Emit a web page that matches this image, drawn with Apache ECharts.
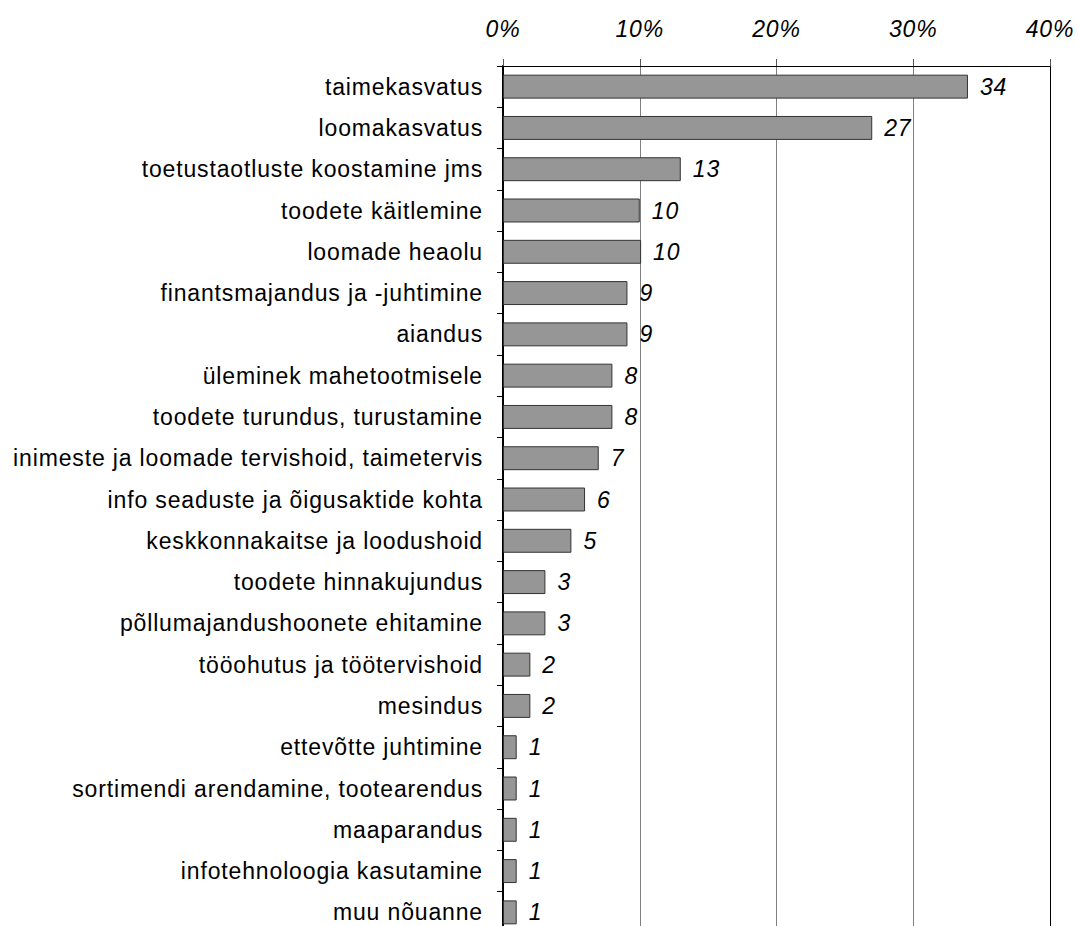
<!DOCTYPE html>
<html>
<head>
<meta charset="utf-8">
<title>Nõuanne</title>
<script src="https://cdn.jsdelivr.net/npm/echarts@6/dist/echarts.min.js"></script>
<style>
html, body { margin: 0; padding: 0; background: #fff; overflow: hidden; }
#chart { width: 1078px; height: 940px; }
/* originaalis on tähed veidi hõredamalt */
#chart text { letter-spacing: 0.85px; }
</style>
</head>
<body>
<div id="chart"></div>
<script>
// teemad (ülevalt alla)
var categories = [
    "taimekasvatus",
    "loomakasvatus",
    "toetustaotluste koostamine jms",
    "toodete käitlemine",
    "loomade heaolu",
    "finantsmajandus ja -juhtimine",
    "aiandus",
    "üleminek mahetootmisele",
    "toodete turundus, turustamine",
    "inimeste ja loomade tervishoid, taimetervis",
    "info seaduste ja õigusaktide kohta",
    "keskkonnakaitse ja loodushoid",
    "toodete hinnakujundus",
    "põllumajandushoonete ehitamine",
    "tööohutus ja töötervishoid",
    "mesindus",
    "ettevõtte juhtimine",
    "sortimendi arendamine, tootearendus",
    "maaparandus",
    "infotehnoloogia kasutamine",
    "muu nõuanne"
];
// osakaal, %
var values = [34, 27, 13, 10, 10.1, 9.1, 9.1, 8, 8, 7, 6, 5, 3.1, 3.1, 2, 2, 1, 1, 1, 1, 1];
// sildid
var labels = [34, 27, 13, 10, 10, 9, 9, 8, 8, 7, 6, 5, 3, 3, 2, 2, 1, 1, 1, 1, 1];
var xTicks = [0, 10, 20, 30, 40];

var font = "Arial, 'Liberation Sans', sans-serif";
var chart = echarts.init(document.getElementById("chart"), null, { renderer: "svg" });
chart.setOption({
    animation: false,
    grid: { left: 503, right: 28, top: 66, bottom: 7, containLabel: false },
    xAxis: {
        type: "value",
        position: "top",
        min: xTicks[0],
        max: xTicks[xTicks.length - 1],
        interval: 10,
        axisLine: { show: true, lineStyle: { color: "#000", width: 1 } },
        axisTick: { show: true, length: 7, lineStyle: { color: "#555" } },
        axisLabel: {
            margin: 26,
            fontFamily: font,
            fontSize: 23,
            fontStyle: "italic",
            color: "#000",
            formatter: "{value}%"
        },
        splitLine: {
            show: true,
            lineStyle: { color: ["#808080", "#808080", "#808080", "#808080", "#000"], width: 1 }
        }
    },
    yAxis: {
        type: "category",
        inverse: true,
        data: categories,
        axisLine: { show: true, lineStyle: { color: "#000", width: 2 } },
        axisTick: { show: true, inside: false, length: 6, lineStyle: { color: "#000" } },
        axisLabel: {
            margin: 20,
            fontFamily: font,
            fontSize: 23,
            color: "#000"
        }
    },
    series: [{
        type: "bar",
        data: values,
        barCategoryGap: "42%",
        itemStyle: { color: "#969696", borderColor: "#333", borderWidth: 1 },
        label: {
            show: true,
            position: "right",
            distance: 12,
            fontFamily: font,
            fontSize: 23,
            fontStyle: "italic",
            color: "#000",
            formatter: function (p) { return labels[p.dataIndex]; }
        }
    }]
});
</script>
</body>
</html>
